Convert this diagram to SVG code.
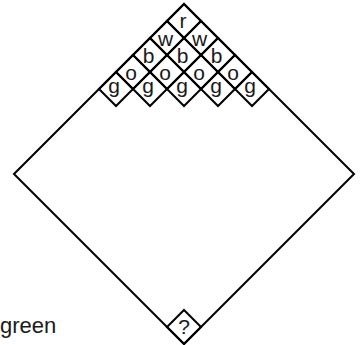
<svg xmlns="http://www.w3.org/2000/svg" xmlns:xlink="http://www.w3.org/1999/xlink" width="364" height="345" viewBox="0 0 364 345">
<style>
.d{fill:none;stroke:#000;stroke-width:2;stroke-linejoin:miter}
.t{font-family:"Liberation Sans",Arial,sans-serif;font-size:21px;fill:#1a1a1a;text-anchor:middle}
</style>
<defs>
<polygon id="dm" points="0,-17 17,0 0,17 -17,0"/>
</defs>
<rect width="364" height="345" fill="#fff"/>
<g id="big"><polygon class="d" points="14,174 184,4 354,174 184,344"/></g>
<g id="n-r"><use xlink:href="#dm" class="d" x="184" y="21"/><text class="t" x="183" y="28">r</text></g>
<g id="n-w1"><use xlink:href="#dm" class="d" x="167" y="38"/><text class="t" x="165.5" y="45.5">w</text></g>
<g id="n-w2"><use xlink:href="#dm" class="d" x="201" y="38"/><text class="t" x="199.5" y="45.5">w</text></g>
<g id="n-b1"><use xlink:href="#dm" class="d" x="150" y="55"/><text class="t" x="148.5" y="63">b</text></g>
<g id="n-b2"><use xlink:href="#dm" class="d" x="184" y="55"/><text class="t" x="182.5" y="63">b</text></g>
<g id="n-b3"><use xlink:href="#dm" class="d" x="218" y="55"/><text class="t" x="216.5" y="63">b</text></g>
<g id="n-o1"><use xlink:href="#dm" class="d" x="133" y="72"/><text class="t" x="131" y="80">o</text></g>
<g id="n-o2"><use xlink:href="#dm" class="d" x="167" y="72"/><text class="t" x="165" y="80">o</text></g>
<g id="n-o3"><use xlink:href="#dm" class="d" x="201" y="72"/><text class="t" x="199" y="80">o</text></g>
<g id="n-o4"><use xlink:href="#dm" class="d" x="235" y="72"/><text class="t" x="233" y="80">o</text></g>
<g id="n-g1"><use xlink:href="#dm" class="d" x="116" y="89"/><text class="t" x="114" y="92.5">g</text></g>
<g id="n-g2"><use xlink:href="#dm" class="d" x="150" y="89"/><text class="t" x="148" y="92.5">g</text></g>
<g id="n-g3"><use xlink:href="#dm" class="d" x="184" y="89"/><text class="t" x="182" y="92.5">g</text></g>
<g id="n-g4"><use xlink:href="#dm" class="d" x="218" y="89"/><text class="t" x="216" y="92.5">g</text></g>
<g id="n-g5"><use xlink:href="#dm" class="d" x="252" y="89"/><text class="t" x="250" y="92.5">g</text></g>
<g id="n-q"><use xlink:href="#dm" class="d" x="184" y="327"/><text class="t" x="184" y="334">?</text></g>
<g id="connectors"></g>
<text x="0" y="333" style="font-family:'Liberation Sans',Arial,sans-serif;font-size:22px;fill:#1a1a1a">green</text>
</svg>
